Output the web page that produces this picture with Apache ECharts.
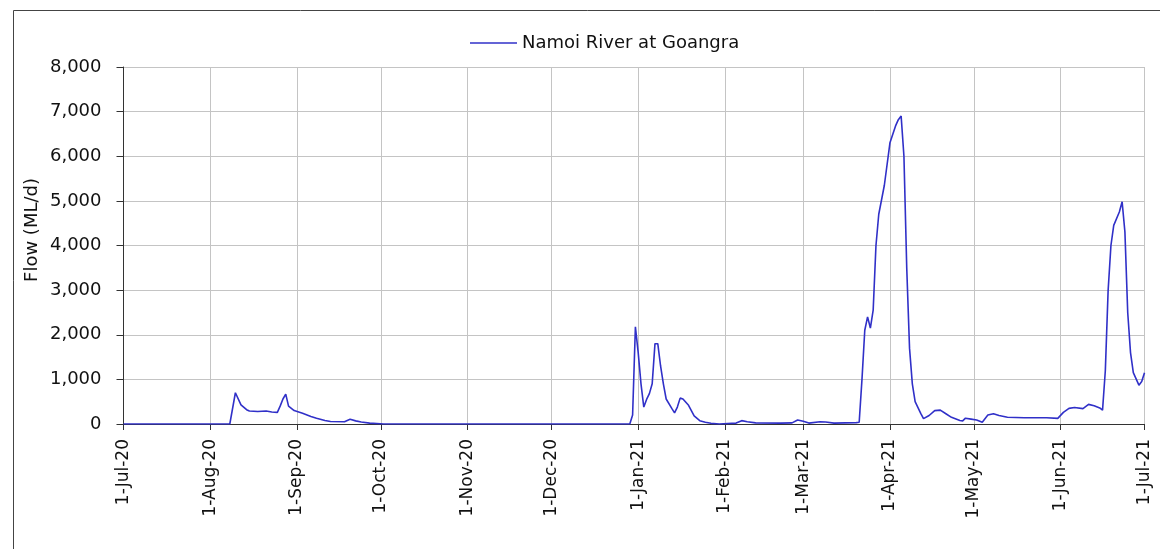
<!DOCTYPE html>
<html><head><meta charset="utf-8">
<script src="https://cdn.jsdelivr.net/npm/echarts@6/dist/echarts.min.js"></script>
<style>html,body{margin:0;padding:0;background:#fff}#c{width:1160px;height:549px}</style>
</head><body><div id="c"></div>
<script>
// ---- data ----
const seriesName = 'Namoi River at Goangra';
const yAxisTitle = 'Flow (ML/d)';
const startDate = '2020-07-01';
const dayCount = 366; // 1-Jul-20 .. 1-Jul-21 inclusive
const monthNames = ['Jan','Feb','Mar','Apr','May','Jun','Jul','Aug','Sep','Oct','Nov','Dec'];
const yTicks = [0,1000,2000,3000,4000,5000,6000,7000,8000];
// day offsets from 1-Jul-20 and flow values (ML/d)
const flowDays = [0,38,40,42,44,45,48,51,53,55,56,57,58,59,61,64,67,69,72,74,79,81,83,85,88,93,
  181,182,183,184,185,186,187,188,189,190,191,192,193,194,196,197,198,199,200,202,204,206,208,210,213,
  219,221,223,226,235,239,241,243,245,249,251,254,262,263,264,265,266,267,268,269,270,272,274,276,277,278,
  279,280,281,282,283,285,286,288,290,292,294,296,299,300,301,303,305,307,309,311,313,316,322,330,334,
  336,338,340,343,345,347,349,350,351,352,353,354,356,357,358,359,360,361,363,364,365];
const flowValues = [0,0,700,430,320,290,280,290,270,260,400,560,670,400,300,240,170,130,80,55,50,105,70,45,20,0,
  0,200,2180,1600,900,380,550,680,900,1800,1800,1300,900,560,350,250,380,580,560,420,180,75,40,15,0,
  20,75,50,25,20,25,90,60,20,50,45,20,30,40,1000,2100,2400,2150,2550,4000,4700,5350,6300,6680,6820,6900,
  6000,3500,1700,900,500,240,120,190,300,310,230,150,80,70,130,110,90,40,200,230,190,150,140,140,127,
  260,350,370,345,440,410,360,310,1200,3000,4000,4450,4750,4980,4300,2500,1600,1150,870,950,1150];

// ---- build ----
function dayToDate(d){const t=new Date(startDate+'T00:00:00Z');t.setUTCDate(t.getUTCDate()+d);return t;}
function key(t){return t.toISOString().slice(0,10);}
const categories=[];
for(let i=0;i<dayCount;i++) categories.push(key(dayToDate(i)));
const seriesData = flowDays.map((d,i)=>[key(dayToDate(d)), flowValues[i]]);
const isMonthStart=(idx,val)=>val.slice(8,10)==='01';
function fmtDate(val){const p=val.split('-');return (+p[2])+'-'+monthNames[+p[1]-1]+'-'+p[0].slice(2);}
const fontFam='"DejaVu Sans", Verdana, sans-serif';
const lineColor='#3030c8';

const chart=echarts.init(document.getElementById('c'),null,{renderer:'canvas'});
chart.setOption({
  backgroundColor:'#fff',
  animation:false,
  graphic:[
    {type:'rect',shape:{x:13.5,y:10.5,width:1200,height:600},style:{fill:'none',stroke:'#444',lineWidth:1},silent:true},
    {type:'text',x:32,y:230,rotation:Math.PI/2,style:{text:yAxisTitle,font:'18px '+fontFam,fill:'#111',textAlign:'center',textVerticalAlign:'middle'},silent:true}
  ],
  legend:{left:465,top:29,itemWidth:47,itemHeight:16,itemGap:8,
    icon:'path://M0,7.3 L47,7.3 L47,8.7 L0,8.7 Z',
    textStyle:{fontFamily:fontFam,fontSize:18,color:'#111'},data:[seriesName]},
  grid:{left:123.5,right:15.5,top:67,bottom:125,containLabel:false},
  xAxis:{type:'category',data:categories,boundaryGap:false,
    axisLine:{lineStyle:{color:'#333',width:1}},
    axisTick:{show:true,interval:isMonthStart,length:6,lineStyle:{color:'#333'}},
    axisLabel:{interval:isMonthStart,rotate:90,formatter:fmtDate,fontFamily:fontFam,fontSize:17,color:'#111',margin:15},
    splitLine:{show:true,interval:isMonthStart,lineStyle:{color:'#c4c4c4',width:1}}},
  yAxis:{type:'value',min:0,max:8000,interval:1000,
    axisLine:{show:true,lineStyle:{color:'#333'}},
    axisTick:{show:true,length:7,lineStyle:{color:'#333'}},
    axisLabel:{formatter:v=>yTicks.includes(v)?v.toLocaleString('en-US'):'',fontFamily:fontFam,fontSize:18,color:'#111',margin:22},
    splitLine:{show:true,lineStyle:{color:'#c4c4c4',width:1}}},
  series:[{name:seriesName,type:'line',data:seriesData,symbol:'none',showSymbol:false,
    lineStyle:{color:lineColor,width:1.6},itemStyle:{color:lineColor}}]
});
</script></body></html>
